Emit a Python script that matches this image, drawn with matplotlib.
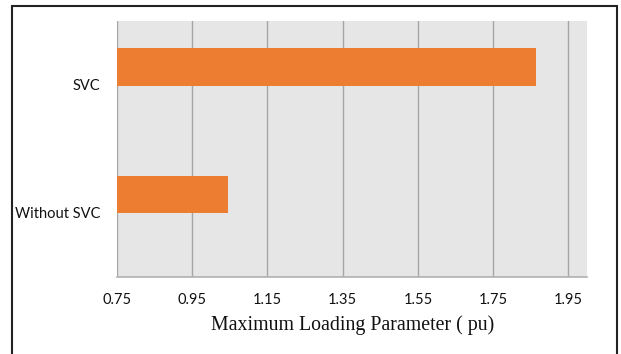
import matplotlib.pyplot as plt
from matplotlib.patches import Rectangle

categories = ["Without SVC", "SVC"]
loading = [1.045, 1.863]
xticks = [0.75, 0.95, 1.15, 1.35, 1.55, 1.75, 1.95]

fig = plt.figure(figsize=(6.21, 3.54), dpi=100)
ax = fig.add_axes([0.1884, 0.2184, 0.7573, 0.7223])

pos = list(range(len(categories)))
ax.barh([p + 0.14 for p in pos], loading, height=0.29, left=0,
        color="#ED7D31", zorder=3)

ax.set_xlim(0.75, 2.0)
ax.set_ylim(-0.5, 1.5)
ax.set_facecolor("#e6e6e6")
ax.set_xticks(xticks)
ax.set_xticklabels([f"{t:.2f}" for t in xticks], family="Lato", fontsize=10.5,
                   color="#111111")
ax.set_yticks(pos)
ax.set_yticklabels(categories, family="Lato", fontsize=10.5, color="#111111")
ax.tick_params(length=0)
ax.tick_params(axis="x", pad=12)
ax.tick_params(axis="y", pad=12)
ax.grid(axis="x", color="#a6a6a6", linewidth=1.0, zorder=1)
ax.set_axisbelow(True)
for s in ["top", "right", "left"]:
    ax.spines[s].set_visible(False)
ax.spines["bottom"].set_color("#b0b0b0")
ax.spines["bottom"].set_linewidth(1.2)

ax.set_xlabel("Maximum Loading Parameter ( pu)", family="Liberation Serif",
              fontsize=14.3, color="#111111", labelpad=6)

# frame around the whole chart
fig.patches.append(Rectangle((12 / 621, -0.05), 605 / 621, 1.05 - 6 / 354,
                             transform=fig.transFigure, fill=False,
                             edgecolor="#222222", linewidth=1.5))

fig.savefig("out.png", dpi=100)
